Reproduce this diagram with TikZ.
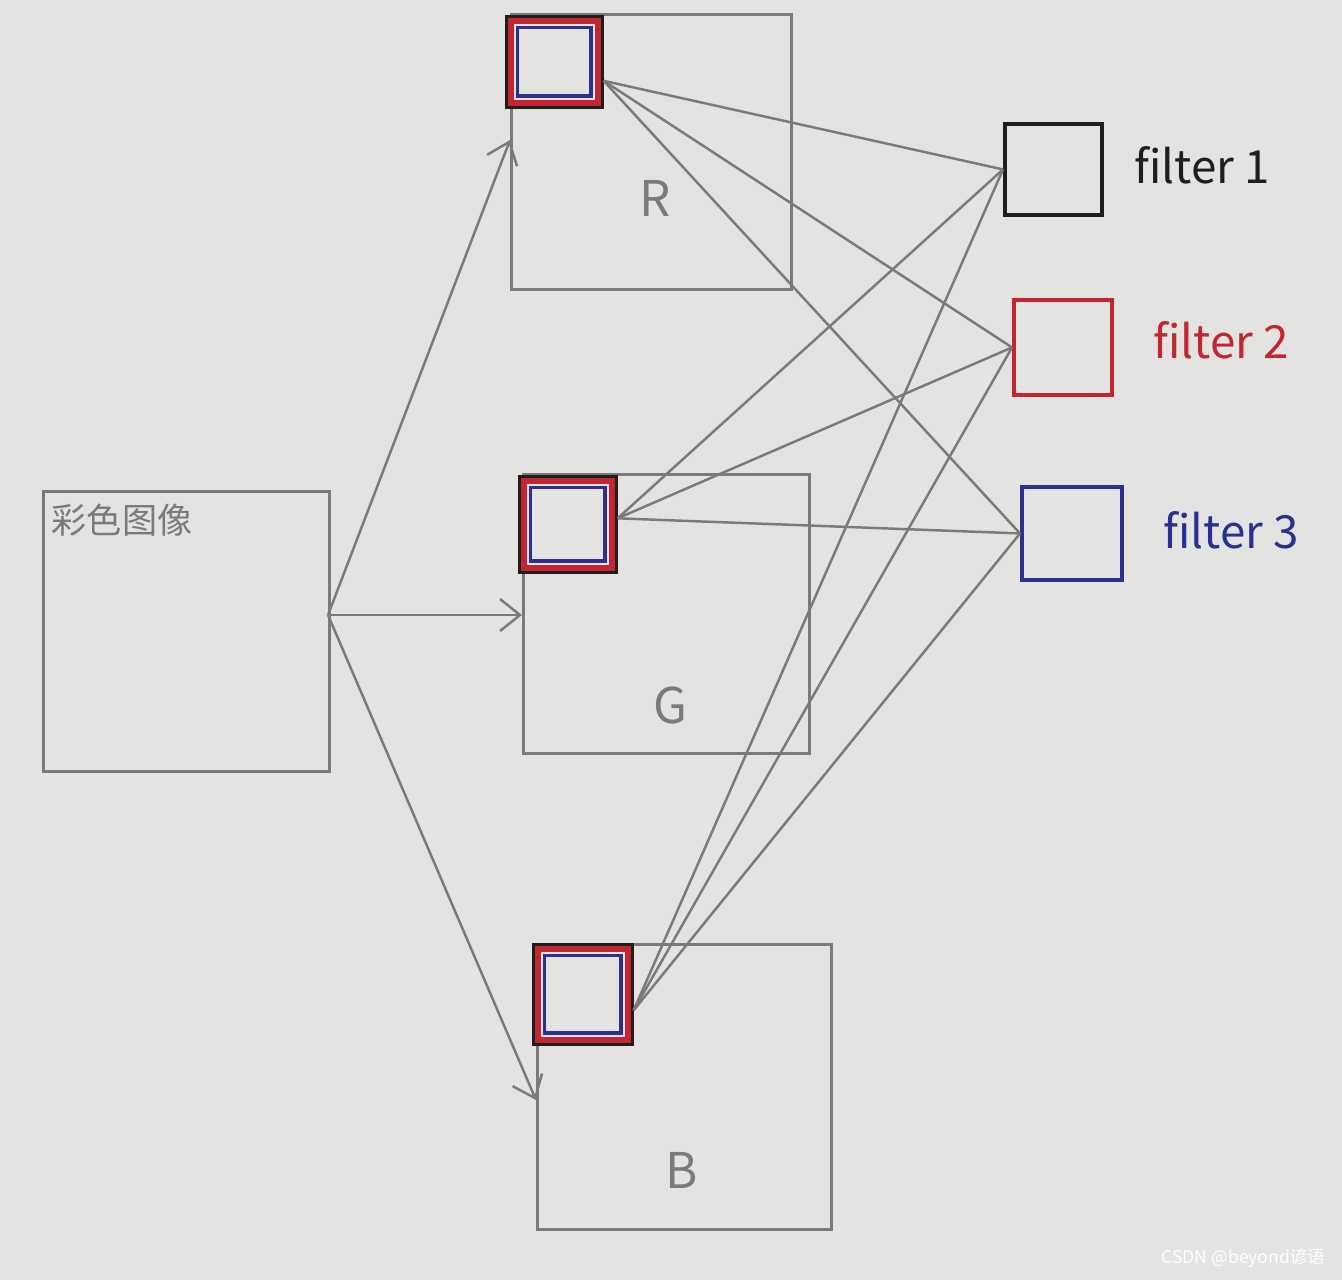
\documentclass[tikz,border=0pt]{standalone}
\usepackage{fontspec}
\newfontfamily\cjk{Noto Sans CJK SC}
\usetikzlibrary{arrows.meta}
\definecolor{paper}{HTML}{E3E3E1}
\definecolor{pencil}{HTML}{7A7A7A}
\definecolor{inkred}{HTML}{C22630}
\definecolor{inkblue}{HTML}{2B2F8F}
\definecolor{inkblack}{HTML}{1E1E1E}
\tikzset{
  chan/.style={draw=pencil, line width=0.8pt, anchor=north west, inner sep=0pt},
  kern/.style={draw=inkblack, line width=1.6pt, anchor=north west, inner sep=0pt},
  filt/.style={line width=1.1pt, anchor=north west, inner sep=0pt},
  link/.style={draw=pencil, line width=0.7pt},
  feed/.style={link, -{Straight Barb[length=2mm, width=3.2mm]}},
  hand/.style={font=\cjk\fontsize{#1}{#1}\selectfont},
}
\begin{document}
\begin{tikzpicture}[x=0.1mm,y=-0.1mm]
\useasboundingbox (0,0) rectangle (1342,1280);
\fill[paper] (0,0) rectangle (1342,1280);
\node[chan, minimum width=2.86cm, minimum height=2.80cm] (img) at (42,490) {};
\node[chan, minimum width=2.80cm, minimum height=2.75cm] (R) at (510,13) {};
\node[chan, minimum width=2.86cm, minimum height=2.79cm] (G) at (522,473) {};
\node[chan, minimum width=2.94cm, minimum height=2.85cm] (B) at (536,943) {};
\node[kern, minimum width=0.93cm, minimum height=0.88cm] (kR) at (505,15) {};
\node[kern, minimum width=0.94cm, minimum height=0.93cm] (kG) at (518,475) {};
\node[kern, minimum width=0.96cm, minimum height=0.97cm] (kB) at (532,943) {};
\foreach \k in {kR,kG,kB}{
  \draw[inkred, line width=1.7pt] ([shift={(1.7pt,-1.7pt)}]\k.north west) rectangle ([shift={(-1.7pt,1.7pt)}]\k.south east);
  \draw[inkblue, line width=0.9pt] ([shift={(3.6pt,-3.6pt)}]\k.north west) rectangle ([shift={(-3.6pt,3.6pt)}]\k.south east);
}
\node[filt, draw=inkblack, minimum width=0.97cm, minimum height=0.91cm] (f1) at (1003,122) {};
\node[filt, draw=inkred, minimum width=0.98cm, minimum height=0.95cm] (f2) at (1012,298) {};
\node[filt, draw=inkblue, minimum width=1.00cm, minimum height=0.93cm] (f3) at (1020,485) {};
\node[hand=10, text=pencil] (title) at (122,520) {彩色图像};
\node[hand=14, text=pencil] (lR) at (655,198) {R};
\node[hand=14, text=pencil] (lG) at (670,705) {G};
\node[hand=14, text=pencil] (lB) at (682,1170) {B};
\node[hand=13, text=inkblack] (l1) at (1202,165) {filter 1};
\node[hand=13, text=inkred] (l2) at (1221,340) {filter 2};
\node[hand=13, text=inkblue] (l3) at (1231,530) {filter 3};
\coordinate (src) at (328,615);
\coordinate (Rin) at (510,140);
\coordinate (Gin) at (522,615);
\coordinate (Bin) at (536,1100);
\draw[feed] (src) -- (Rin);
\draw[feed] (src) -- (Gin);
\draw[feed] (src) -- (Bin);
\foreach \k/\s in {kR/-1.9mm, kG/0.6mm, kB/-1.6mm}
  \foreach \f in {f1,f2,f3}
    \draw[link] ([yshift=\s]\k.east) -- (\f.west);
\node[hand=5, text=white, anchor=east, inner sep=0pt] (mark) at (1326,1258) {CSDN @beyond谚语};
\end{tikzpicture}
\end{document}
